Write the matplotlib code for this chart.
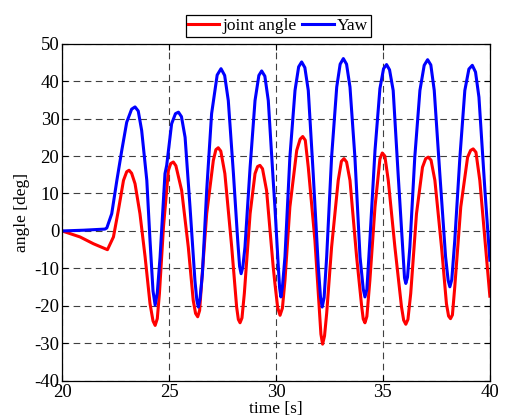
import matplotlib
matplotlib.use('Agg')
import matplotlib.pyplot as plt

# values (time [s], angle [deg])
t_joint = [20.0, 20.84, 21.46, 22.12, 22.40, 22.63, 22.87, 23.02, 23.13, 23.25, 23.41, 23.64,
           23.88, 24.11, 24.25, 24.35, 24.45, 24.55, 24.74, 24.97, 25.08, 25.20, 25.32, 25.59,
           25.90, 26.13, 26.24, 26.34, 26.43, 26.53, 26.76, 27.07, 27.19, 27.30, 27.42, 27.61,
           27.93, 28.16, 28.24, 28.32, 28.41, 28.52, 28.79, 29.02, 29.14, 29.25, 29.37, 29.56,
           29.87, 29.95, 30.08, 30.19, 30.30, 30.42, 30.65, 30.97, 31.13, 31.25, 31.37, 31.51,
           31.82, 32.02, 32.10, 32.18, 32.27, 32.37, 32.60, 32.91, 33.06, 33.18, 33.30, 33.46,
           33.77, 34.01, 34.08, 34.16, 34.25, 34.39, 34.63, 34.86, 34.97, 35.09, 35.25, 35.56,
           35.87, 35.97, 36.07, 36.17, 36.30, 36.57, 36.85, 37.00, 37.12, 37.25, 37.43, 37.74,
           37.97, 38.07, 38.16, 38.25, 38.36, 38.64, 38.96, 39.10, 39.22, 39.35, 39.53, 39.84,
           40.0]
joint_angle = [0.0, -1.6, -3.4, -5.0, -1.6, 5.5, 13.5, 15.8, 16.2, 15.4, 12.6, 4.6,
               -6.9, -19.4, -24.0, -25.2, -23.4, -16.7, 1.1, 16.2, 18.0, 18.4, 17.4, 10.8,
               -4.3, -18.5, -22.0, -22.9, -21.2, -13.2, 4.6, 18.8, 21.7, 22.2, 21.3, 15.3,
               -4.3, -20.3, -23.6, -24.5, -23.2, -16.7, 4.6, 15.3, 17.2, 17.5, 16.6, 10.8,
               -9.6, -14.0, -20.5, -22.5, -20.6, -13.2, 6.4, 21.5, 24.5, 25.2, 24.2, 17.0,
               -2.5, -20.3, -27.5, -30.2, -28.0, -22.0, -4.3, 13.5, 18.6, 19.3, 18.4, 13.5,
               -6.9, -20.3, -23.5, -24.5, -22.8, -13.2, 6.4, 19.2, 20.8, 20.0, 13.5, -4.3,
               -20.3, -23.8, -24.9, -23.6, -16.7, 4.6, 17.0, 19.3, 19.7, 18.9, 13.5, -4.3,
               -19.4, -22.7, -23.4, -22.4, -14.9, 6.4, 19.7, 21.5, 21.9, 21.0, 13.5, -6.9,
               -17.4]

t_yaw = [20.0, 21.0, 22.0, 22.09, 22.32, 22.56, 22.79, 23.02, 23.25, 23.41, 23.56, 23.72,
         23.96, 24.11, 24.25, 24.35, 24.45, 24.58, 24.81, 24.89, 25.12, 25.30, 25.44, 25.58,
         25.75, 25.98, 26.21, 26.30, 26.37, 26.45, 26.56, 26.76, 26.99, 27.25, 27.43, 27.60,
         27.77, 28.01, 28.21, 28.30, 28.37, 28.45, 28.55, 28.79, 29.02, 29.20, 29.33, 29.48,
         29.64, 29.87, 29.95, 30.11, 30.17, 30.23, 30.30, 30.42, 30.65, 30.89, 31.06, 31.20,
         31.35, 31.51, 31.74, 31.98, 32.08, 32.16, 32.25, 32.37, 32.60, 32.84, 33.00, 33.15,
         33.30, 33.46, 33.69, 33.93, 34.08, 34.16, 34.25, 34.39, 34.63, 34.86, 35.03, 35.17,
         35.31, 35.48, 35.71, 35.95, 36.01, 36.07, 36.15, 36.26, 36.49, 36.73, 36.93, 37.09,
         37.24, 37.40, 37.66, 37.93, 38.05, 38.13, 38.22, 38.36, 38.60, 38.83, 39.02, 39.18,
         39.33, 39.49, 39.77, 40.0]
yaw = [0.0, 0.2, 0.5, 0.8, 4.6, 13.5, 21.5, 29.0, 32.5, 33.1, 32.0, 26.8,
       13.5, -2.5, -16.0, -19.8, -16.5, -7.0, 15.3, 17.5, 28.6, 31.3, 31.7, 30.5,
       25.0, 6.4, -13.2, -18.5, -20.3, -18.0, -11.4, 10.8, 31.3, 41.6, 43.3, 41.5,
       34.8, 15.3, -2.5, -9.5, -11.4, -9.6, -4.3, 17.0, 34.8, 41.5, 42.7, 41.3,
       34.8, 13.5, 6.4, -9.6, -15.2, -17.6, -15.0, -6.9, 19.7, 37.5, 43.8, 45.1,
       43.6, 37.5, 15.3, -9.6, -17.5, -20.3, -17.8, -6.9, 19.7, 38.4, 44.5, 46.0,
       44.5, 38.4, 19.7, -6.9, -15.5, -17.6, -15.6, -2.5, 21.5, 38.0, 43.3, 44.4,
       43.0, 37.5, 15.3, -6.9, -12.5, -14.0, -12.3, -4.3, 19.7, 37.5, 44.2, 45.7,
       44.3, 37.5, 15.3, -6.9, -13.2, -14.9, -13.0, -2.5, 19.7, 37.5, 43.2, 44.2,
       42.4, 35.7, 10.8, -7.8]

x_ticks = [20, 25, 30, 35, 40]
y_ticks = [-40, -30, -20, -10, 0, 10, 20, 30, 40, 50]

plt.rcParams['font.family'] = ['Liberation Serif', 'DejaVu Serif']
plt.rcParams['font.size'] = 12
plt.rcParams['axes.unicode_minus'] = False

fig = plt.figure(figsize=(5.05, 4.19), dpi=100)
ax = fig.add_axes([0.123, 0.091, 0.847, 0.805])

ax.plot(t_joint, joint_angle, color='#ff0000', linewidth=2.2, label='joint angle')
ax.plot(t_yaw, yaw, color='#0000ff', linewidth=2.2, label='Yaw')

ax.set_xlim(20, 40)
ax.set_ylim(-40, 50)
ax.set_xticks(x_ticks)
ax.set_yticks(y_ticks)
ax.tick_params(direction='in', length=4, width=0.8, labelsize=13.5, pad=2, top=True, right=True)
ax.grid(True, color='0.25', linestyle=(0, (6, 4)), linewidth=0.8)
for s in ax.spines.values():
    s.set_linewidth(0.9)

ax.set_xlabel('time [s]', fontsize=12.5, labelpad=0)
ax.set_ylabel('angle [deg]', fontsize=12.5, labelpad=3)

leg = ax.legend(loc='lower center', bbox_to_anchor=(0.505, 1.02), ncol=2, fontsize=12.5,
                frameon=True, fancybox=False, edgecolor='black', framealpha=1,
                handlelength=1.8, handletextpad=0.2, columnspacing=0.3,
                borderpad=0.15, borderaxespad=0)
leg.get_frame().set_linewidth(0.9)

fig.savefig('out.png', dpi=100)
